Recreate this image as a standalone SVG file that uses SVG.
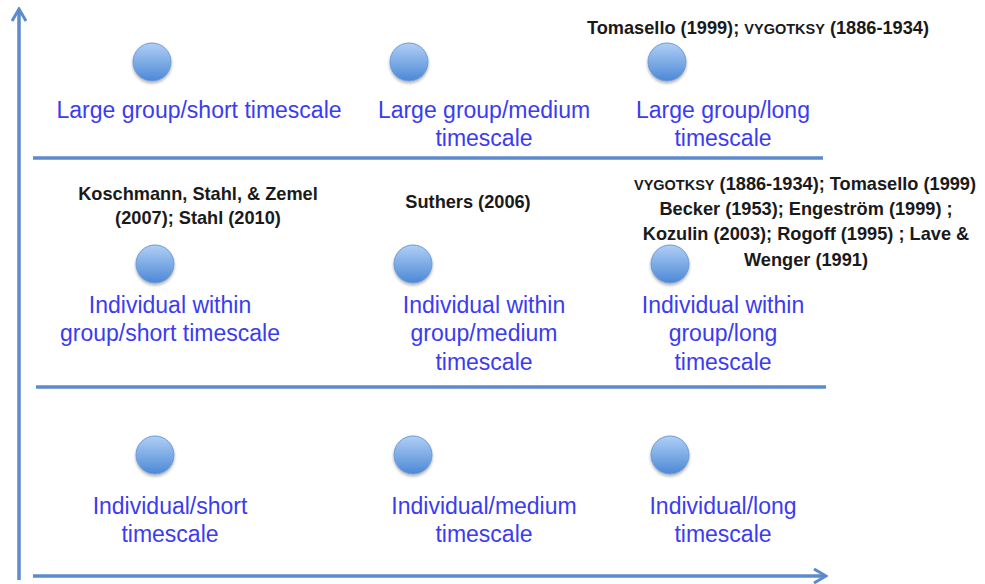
<svg xmlns="http://www.w3.org/2000/svg" width="985" height="584" viewBox="0 0 985 584">
<style>
.lbl{font-family:"Liberation Sans",Arial,sans-serif;font-size:23px;fill:#3b3bf2;text-anchor:middle}
.ref{font-family:"Liberation Sans",Arial,sans-serif;font-size:18.2px;font-weight:bold;fill:#1a1a1a;text-anchor:middle}
.sc{font-size:14.5px}
.ax{stroke:#5b8bcc;stroke-width:3.5;fill:none}
.dot{fill:url(#g);stroke:#6b9bd6;stroke-width:1;filter:url(#sh)}
</style>
<defs>
<linearGradient id="g" x1="0" y1="0" x2="0" y2="1">
<stop offset="0" stop-color="#b0cff5"/>
<stop offset="1" stop-color="#4c88d6"/>
</linearGradient>
<filter id="sh" x="-30%" y="-30%" width="160%" height="170%">
<feDropShadow dx="0" dy="2" stdDeviation="1.5" flood-color="#000" flood-opacity="0.3"/>
</filter>
<marker id="arr" viewBox="0 0 16 16" refX="14" refY="8" markerWidth="16" markerHeight="16" markerUnits="userSpaceOnUse" orient="auto">
<path d="M2,1 L14,8 L2,15" fill="none" stroke="#5b8bcc" stroke-width="3"/>
</marker>
</defs>
<rect width="985" height="584" fill="#fff"/>
<g id="connectors">
<line class="ax" x1="19" y1="580" x2="19" y2="9" marker-end="url(#arr)"/>
<line class="ax" x1="33" y1="576" x2="826" y2="576" marker-end="url(#arr)"/>
<line class="ax" x1="33" y1="158" x2="823" y2="158"/>
<line class="ax" x1="36" y1="387" x2="826" y2="387"/>
</g>
<g id="n-large-short">
<circle class="dot" cx="152" cy="62" r="19"/>
<text class="lbl" x="199" y="118">Large group/short timescale</text>
</g>
<g id="n-large-medium">
<circle class="dot" cx="409" cy="62" r="19"/>
<text class="lbl" x="484" y="118">Large group/medium</text>
<text class="lbl" x="484" y="146">timescale</text>
</g>
<g id="n-large-long">
<text class="ref" x="758" y="34">Tomasello (1999); <tspan class="sc">VYGOTKSY</tspan> (1886-1934)</text>
<circle class="dot" cx="667" cy="62" r="19"/>
<text class="lbl" x="723" y="118">Large group/long</text>
<text class="lbl" x="723" y="146">timescale</text>
</g>
<g id="n-ind-group-short">
<text class="ref" x="198" y="200">Koschmann, Stahl, &amp; Zemel</text>
<text class="ref" x="198" y="224">(2007); Stahl (2010)</text>
<circle class="dot" cx="155" cy="264" r="19"/>
<text class="lbl" x="170" y="313">Individual within</text>
<text class="lbl" x="170" y="341">group/short timescale</text>
</g>
<g id="n-ind-group-medium">
<text class="ref" x="468" y="208">Suthers (2006)</text>
<circle class="dot" cx="413" cy="264" r="19"/>
<text class="lbl" x="484" y="313">Individual within</text>
<text class="lbl" x="484" y="341">group/medium</text>
<text class="lbl" x="484" y="370">timescale</text>
</g>
<g id="n-ind-group-long">
<text class="ref" x="805" y="190"><tspan class="sc">VYGOTKSY</tspan> (1886-1934); Tomasello (1999)</text>
<text class="ref" x="806" y="215">Becker (1953); Engeström (1999) ;</text>
<text class="ref" x="806" y="240">Kozulin (2003); Rogoff (1995) ; Lave &amp;</text>
<text class="ref" x="806" y="266">Wenger (1991)</text>
<circle class="dot" cx="670" cy="264" r="19"/>
<text class="lbl" x="723" y="313">Individual within</text>
<text class="lbl" x="723" y="341">group/long</text>
<text class="lbl" x="723" y="370">timescale</text>
</g>
<g id="n-ind-short">
<circle class="dot" cx="155" cy="455" r="19"/>
<text class="lbl" x="170" y="514">Individual/short</text>
<text class="lbl" x="170" y="542">timescale</text>
</g>
<g id="n-ind-medium">
<circle class="dot" cx="413" cy="455" r="19"/>
<text class="lbl" x="484" y="514">Individual/medium</text>
<text class="lbl" x="484" y="542">timescale</text>
</g>
<g id="n-ind-long">
<circle class="dot" cx="670" cy="455" r="19"/>
<text class="lbl" x="723" y="514">Individual/long</text>
<text class="lbl" x="723" y="542">timescale</text>
</g>
</svg>
